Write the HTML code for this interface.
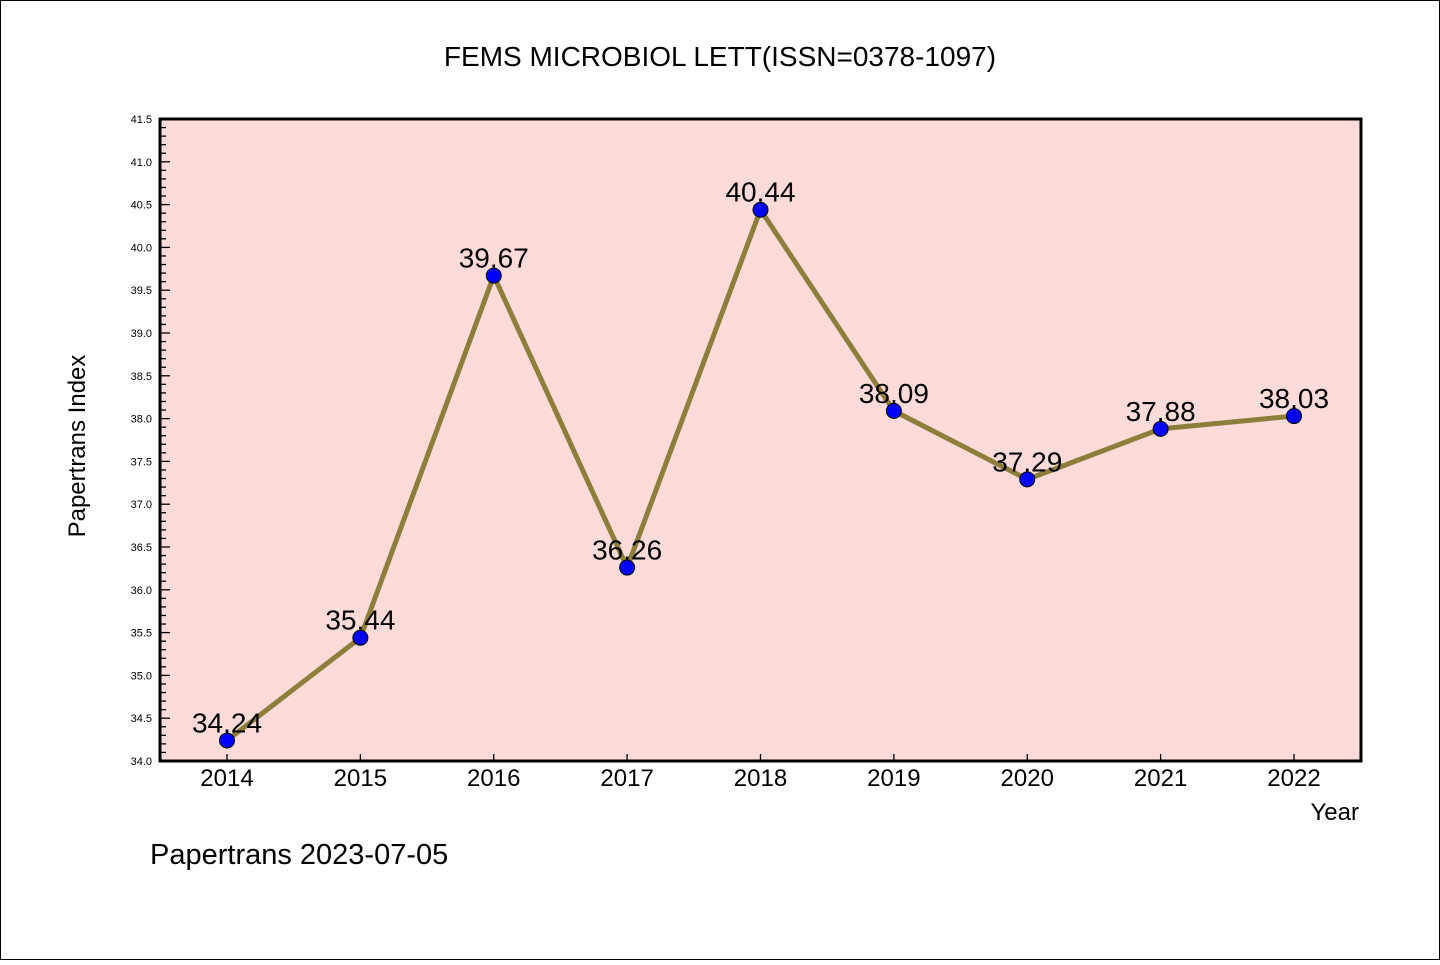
<!DOCTYPE html>
<html><head><meta charset="utf-8"><style>
body{margin:0;background:#fff}
svg text{font-family:"Liberation Sans","WenQuanYi Zen Hei",sans-serif}
</style></head><body>
<svg width="1440" height="960" xmlns="http://www.w3.org/2000/svg" id="c">
<rect x="0.5" y="0.5" width="1439" height="959" fill="#fff" stroke="#000"/>
<text x="720" y="66" text-anchor="middle" font-size="28" font-family="Liberation Mono, monospace">FEMS MICROBIOL LETT(ISSN=0378-1097)</text>
<rect x="160" y="119" width="1201" height="642" fill="#fddbd8"/>
<g id="ticks"></g>
<g id="marks"></g>
<rect x="160" y="119" width="1201" height="642" fill="none" stroke="#000" stroke-width="3"/>
<text transform="translate(85,446) rotate(-90)" text-anchor="middle" font-size="24" font-family="Liberation Mono, monospace">Papertrans Index</text>
<text x="1359" y="820" text-anchor="end" font-size="24" font-family="Liberation Mono, monospace">Year</text>
<text x="150" y="864" font-size="29" font-family="Liberation Mono, monospace">Papertrans 2023-07-05</text>
</svg>
<script>
const years=["2014","2015","2016","2017","2018","2019","2020","2021","2022"];
const values=[34.24,35.44,39.67,36.26,40.44,38.09,37.29,37.88,38.03];
const yTickLabels=["34.0","34.5","35.0","35.5","36.0","36.5","37.0","37.5","38.0","38.5","39.0","39.5","40.0","40.5","41.0","41.5"];
const NS="http://www.w3.org/2000/svg";
const y=v=>761-(v-34)*(642/7.5);
const x=i=>227+i*133.375;
const tg=document.getElementById('ticks'),mg=document.getElementById('marks');
function mk(tag,a,p){const e=document.createElementNS(NS,tag);for(const k in a)e.setAttribute(k,a[k]);p.appendChild(e);return e;}
for(let k=0;k<=75;k++){const v=34+k*0.1,yy=y(v);const major=k%5===0;
 const l=mk('line',{x1:160,x2:160+(major?10:6),y1:yy,y2:yy,stroke:'#000','stroke-width':1.3},tg);
 }
yTickLabels.forEach(s=>{const t=mk('text',{x:152,y:y(parseFloat(s))+4,'text-anchor':'end','font-size':11},tg);t.textContent=s;
 });
years.forEach((s,i)=>{const l=mk('line',{x1:x(i),x2:x(i),y1:761,y2:754,stroke:'#000','stroke-width':1.3},tg);
 
 const t=mk('text',{x:x(i),y:786,'text-anchor':'middle','font-size':24},tg);t.textContent=s;
 });
const pl=mk('polyline',{points:values.map((v,i)=>x(i)+','+y(v)).join(' '),fill:'none',stroke:'#8e7e3c','stroke-width':5,'stroke-linejoin':'miter'},mg);

values.forEach((v,i)=>{const c=mk('circle',{cx:x(i),cy:y(v),r:7.5,fill:'#0000ff',stroke:'#000','stroke-width':1},mg);
 
 const t=mk('text',{x:x(i),y:y(v)-8,'text-anchor':'middle','font-size':28},mg);t.textContent=v.toFixed(2);
 });
</script>
</body></html>
